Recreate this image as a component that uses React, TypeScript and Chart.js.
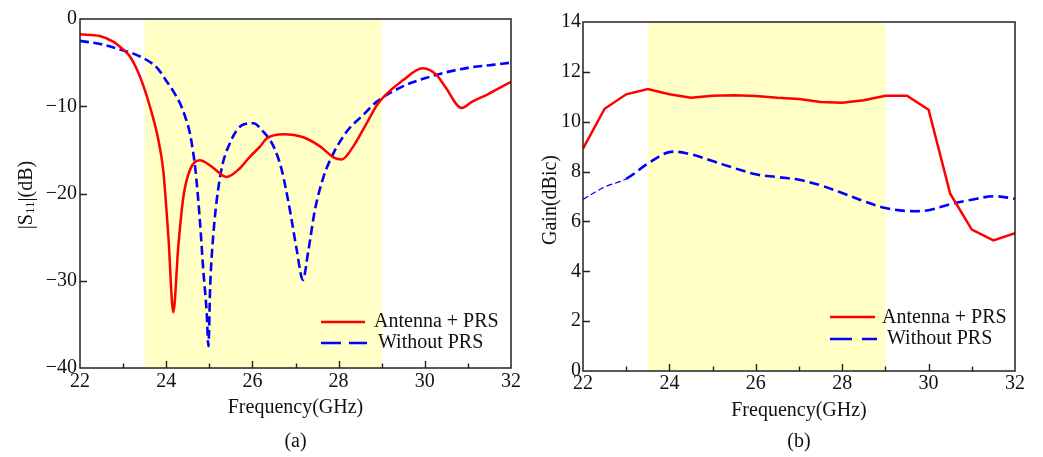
import React, { useEffect, useRef } from 'react';
import { Chart, registerables } from 'chart.js';

Chart.register(...registerables);

const FONT = '"Liberation Serif", "Times New Roman", Times, serif';

// ---- Panel (a): |S11| (dB) ----
const s11FreqPRS = [22.0, 22.46, 22.77, 23.0, 23.16, 23.39, 23.62, 23.82, 23.93, 24.05, 24.165, 24.28, 24.4, 24.55, 24.78, 25.05, 25.4, 25.71, 25.94, 26.18, 26.33, 26.72, 27.18, 27.57, 27.88, 28.07, 28.34, 28.65, 28.92, 29.5, 29.95, 30.27, 30.47, 30.86, 31.09, 31.47, 32.0];
const s11PRS = [-1.76, -1.95, -2.6, -3.5, -4.3, -6.6, -10.0, -13.9, -17.3, -24.9, -33.6, -26.1, -20.35, -17.3, -16.2, -16.9, -18.1, -17.1, -15.8, -14.6, -13.7, -13.2, -13.55, -14.6, -15.85, -16.1, -14.6, -11.95, -9.66, -7.0, -5.65, -6.4, -7.75, -10.2, -9.5, -8.6, -7.2];
const s11FreqNoPRS = [22.0, 22.5, 23.0, 23.24, 23.55, 23.8, 24.0, 24.17, 24.32, 24.44, 24.55, 24.61, 24.67, 24.78, 24.86, 24.94, 24.98, 25.02, 25.09, 25.25, 25.48, 25.79, 26.02, 26.25, 26.49, 26.68, 26.87, 27.03, 27.17, 27.3, 27.45, 27.65, 27.88, 28.19, 28.57, 28.88, 29.5, 30.0, 30.5, 31.0, 31.5, 32.0];
const s11NoPRS = [-2.5, -2.9, -3.6, -3.97, -4.7, -5.65, -7.07, -8.33, -9.66, -11.2, -13.1, -14.8, -16.9, -23.0, -28.75, -33.7, -37.5, -30.7, -24.9, -18.1, -14.2, -12.1, -11.95, -12.9, -14.6, -17.3, -21.9, -26.5, -29.9, -26.5, -21.9, -18.1, -15.4, -12.9, -11.0, -9.5, -7.7, -6.8, -6.1, -5.6, -5.3, -5.0];
const s11Ticks = [-40, -30, -20, -10, 0];

// ---- Panel (b): Gain (dBic) ----
const gainFreq = [22, 22.5, 23, 23.5, 24, 24.5, 25, 25.5, 26, 26.5, 27, 27.5, 28, 28.5, 29, 29.5, 30, 30.5, 31, 31.5, 32];
const gainPRS = [8.92, 10.52, 11.1, 11.31, 11.1, 10.96, 11.04, 11.06, 11.03, 10.96, 10.91, 10.79, 10.76, 10.86, 11.04, 11.04, 10.48, 7.11, 5.67, 5.24, 5.53];
const gainNoPRS = [6.88, 7.38, 7.71, 8.32, 8.78, 8.69, 8.42, 8.14, 7.89, 7.78, 7.67, 7.45, 7.14, 6.81, 6.54, 6.42, 6.45, 6.69, 6.87, 7.01, 6.91];
const gainTicks = [0, 2, 4, 6, 8, 10, 12, 14];

// ---- shared ----
const freqTicks = [22, 24, 26, 28, 30, 32];
const freqMinorTicks = [23, 25, 27, 29, 31];
const band = [23.5, 29];
const seriesNames = ['Antenna + PRS', 'Without PRS'];

const RED = '#ff0000';
const BLUE = '#0000ff';
const AXIS = '#222222';
const TEXT = '#111111';

const toPts = (xs: number[], ys: number[]) => xs.map((x, i) => ({ x, y: ys[i] }));
const minus = (v: number | string) => String(v).replace('-', '\u2212');

const decoPlugin = {
  id: 'deco',
  beforeDatasetsDraw(chart: any, _args: any, opts: any) {
    const { ctx, chartArea: a, scales } = chart;
    const x = scales.x;
    const x0 = x.getPixelForValue(opts.band[0]);
    const x1 = x.getPixelForValue(opts.band[1]);
    ctx.save();
    ctx.fillStyle = opts.bandColor;
    ctx.fillRect(x0, a.top, x1 - x0, a.bottom - a.top);
    ctx.restore();
  },
  afterDatasetsDraw(chart: any, _args: any, opts: any) {
    const { ctx, chartArea: a, scales } = chart;
    const xs = scales.x;
    const ys = scales.y;
    ctx.save();
    // inward ticks
    ctx.strokeStyle = AXIS;
    ctx.lineWidth = 1.4;
    ctx.beginPath();
    opts.xMajor.forEach((v: number) => {
      const p = Math.round(xs.getPixelForValue(v)) + 0.5;
      if (p <= a.left + 1 || p >= a.right - 1) return;
      ctx.moveTo(p, a.bottom);
      ctx.lineTo(p, a.bottom - 7);
    });
    opts.xMinor.forEach((v: number) => {
      const p = Math.round(xs.getPixelForValue(v)) + 0.5;
      ctx.moveTo(p, a.bottom);
      ctx.lineTo(p, a.bottom - 4.5);
    });
    opts.yMajor.forEach((v: number) => {
      const p = Math.round(ys.getPixelForValue(v)) + 0.5;
      if (p <= a.top + 1 || p >= a.bottom - 1) return;
      ctx.moveTo(a.left, p);
      ctx.lineTo(a.left + 7, p);
    });
    ctx.stroke();
    // frame
    ctx.lineWidth = 1.5;
    ctx.strokeRect(a.left, a.top, a.right - a.left, a.bottom - a.top);

    // legend
    ctx.font = `20px ${FONT}`;
    ctx.textBaseline = 'middle';
    ctx.textAlign = 'left';
    opts.legend.forEach((it: any) => {
      ctx.strokeStyle = it.color;
      ctx.lineWidth = it.width;
      ctx.setLineDash(it.dash);
      ctx.beginPath();
      ctx.moveTo(it.x0, it.y);
      ctx.lineTo(it.x1, it.y);
      ctx.stroke();
      ctx.setLineDash([]);
      ctx.fillStyle = TEXT;
      ctx.fillText(it.label, it.tx, it.ty);
    });

    // rotated y title (with optional subscript)
    const t = opts.yTitle;
    ctx.translate(t.x, t.y);
    ctx.rotate(-Math.PI / 2);
    let total = 0;
    const widths = t.parts.map((p: any) => {
      ctx.font = `${p.sub ? 13 : 20}px ${FONT}`;
      const w = ctx.measureText(p.t).width;
      total += w;
      return w;
    });
    let cx = -total / 2;
    t.parts.forEach((p: any, i: number) => {
      ctx.font = `${p.sub ? 13 : 20}px ${FONT}`;
      ctx.fillStyle = TEXT;
      ctx.textBaseline = 'middle';
      ctx.fillText(p.t, cx, p.sub ? 4 : 0);
      cx += widths[i];
    });
    ctx.restore();
  },
};

function makeConfig(panel: 'a' | 'b'): any {
  const isA = panel === 'a';
  const datasets = isA
    ? [
        {
          label: seriesNames[0],
          data: toPts(s11FreqPRS, s11PRS),
          borderColor: RED,
          borderWidth: 2.5,
          pointRadius: 0,
          cubicInterpolationMode: 'monotone',
        },
        {
          label: seriesNames[1],
          data: toPts(s11FreqNoPRS, s11NoPRS),
          borderColor: BLUE,
          borderWidth: 2.6,
          borderDash: [9, 4.5],
          pointRadius: 0,
          cubicInterpolationMode: 'monotone',
        },
      ]
    : [
        {
          label: seriesNames[0],
          data: toPts(gainFreq, gainPRS),
          borderColor: RED,
          borderWidth: 2.5,
          pointRadius: 0,
          tension: 0,
        },
        {
          label: seriesNames[1],
          data: toPts(gainFreq, gainNoPRS),
          borderColor: BLUE,
          borderWidth: 2.6,
          borderDash: [10, 5],
          pointRadius: 0,
          tension: 0.35,
          segment: {
            borderWidth: (c: any) => (c.p1.parsed.x <= 23 ? 1.2 : undefined),
            borderDash: (c: any) => (c.p1.parsed.x <= 23 ? [6, 3] : undefined),
          },
        },
      ];

  const yTicks = isA ? s11Ticks : gainTicks;
  const legend = isA
    ? [
        { label: seriesNames[0], color: RED, width: 2.5, dash: [], x0: 321, x1: 365, y: 322, tx: 374, ty: 322 },
        { label: seriesNames[1], color: BLUE, width: 2.6, dash: [20, 8], x0: 321, x1: 367, y: 343, tx: 378, ty: 343 },
      ]
    : [
        { label: seriesNames[0], color: RED, width: 2.5, dash: [], x0: 300, x1: 345, y: 317, tx: 352, ty: 318 },
        { label: seriesNames[1], color: BLUE, width: 2.6, dash: [22, 10], x0: 300, x1: 347, y: 339, tx: 357, ty: 339 },
      ];

  return {
    type: 'line',
    data: { datasets },
    plugins: [decoPlugin],
    options: {
      animation: false,
      responsive: false,
      devicePixelRatio: 1,
      parsing: false,
      normalized: true,
      layout: { padding: isA ? { top: 19, right: 19, bottom: 0, left: 0 } : { top: 22, right: 28, bottom: 0, left: 0 } },
      plugins: {
        legend: { display: false },
        tooltip: { enabled: false },
        deco: {
          band,
          bandColor: '#ffffc6',
          xMajor: freqTicks,
          xMinor: freqMinorTicks,
          yMajor: yTicks,
          legend,
          yTitle: isA
            ? { x: 27, y: 195, parts: [{ t: '|S' }, { t: '11', sub: true }, { t: '|(dB)' }] }
            : { x: 21, y: 200, parts: [{ t: 'Gain(dBic)' }] },
        },
      },
      scales: {
        x: {
          type: 'linear',
          min: 22,
          max: 32,
          afterBuildTicks: (s: any) => {
            s.ticks = freqTicks.map((v) => ({ value: v }));
          },
          afterFit: (s: any) => {
            s.height = isA ? 89 : 86;
          },
          grid: { display: false, drawTicks: false },
          border: { display: false },
          ticks: {
            autoSkip: false,
            maxRotation: 0,
            padding: isA ? 2 : 1,
            color: TEXT,
            font: { family: FONT, size: 20 },
            callback: (v: any) => minus(v),
          },
          title: {
            display: true,
            text: ['Frequency(GHz)', isA ? '(a)' : '(b)'],
            color: TEXT,
            font: { family: FONT, size: 20, lineHeight: isA ? 1.7 : 1.55 },
            padding: { top: 0, bottom: isA ? -2 : -0.5 },
          },
        },
        y: {
          type: 'linear',
          min: isA ? -40 : 0,
          max: isA ? 0 : 14,
          afterBuildTicks: (s: any) => {
            s.ticks = yTicks.map((v) => ({ value: v }));
          },
          afterFit: (s: any) => {
            s.width = isA ? 80 : 53;
          },
          grid: { display: false, drawTicks: false },
          border: { display: false },
          ticks: {
            autoSkip: false,
            padding: isA ? 3 : 2,
            color: TEXT,
            font: { family: FONT, size: 20 },
            callback: (v: any) => minus(v),
          },
        },
      },
    },
  };
}

function Panel({ panel, left, width }: { panel: 'a' | 'b'; left: number; width: number }) {
  const ref = useRef<HTMLCanvasElement | null>(null);
  useEffect(() => {
    if (!ref.current) return;
    const chart = new Chart(ref.current, makeConfig(panel));
    return () => chart.destroy();
  }, [panel]);
  return (
    <canvas
      ref={ref}
      width={width}
      height={457}
      style={{ position: 'absolute', left, top: 0, width, height: 457 }}
    />
  );
}

export default function App() {
  return (
    <div
      style={{
        position: 'fixed',
        left: 0,
        top: 0,
        width: 1043,
        height: 457,
        overflow: 'hidden',
        background: '#ffffff',
      }}
    >
      <Panel panel="a" left={0} width={530} />
      <Panel panel="b" left={530} width={513} />
    </div>
  );
}
